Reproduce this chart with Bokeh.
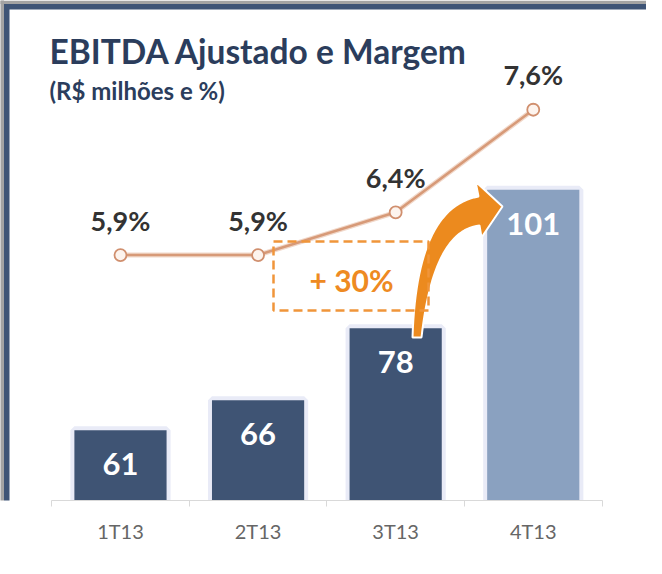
import numpy as np
from bokeh.plotting import figure
from bokeh.models import Range1d, FixedTicker, Label, BoxAnnotation
from bokeh.core.properties import value
from bokeh.embed import file_html
from bokeh.resources import INLINE

# ---- data ----
categories = ["1T13", "2T13", "3T13", "4T13"]
ebitda = [61, 66, 78, 101]
ebitda_labels = ["61", "66", "78", "101"]
margem = [5.9, 5.9, 6.4, 7.6]
margem_labels = ["5,9%", "5,9%", "6,4%", "7,6%"]
bar_colors = ["#3f5474", "#3f5474", "#3f5474", "#8aa1c0"]
title_text = "EBITDA Ajustado e Margem"
subtitle_text = "(R$ milhões e %)"
growth_text = "+ 30%"

# ---- layout ----
W, H = 646, 558
BOTTOM = 58
FH = H - BOTTOM
X0, X1 = -0.872, 3.823
Y0, Y1 = 49.33, 132.5
M0, M1 = 3.028, 8.878
FONT = "Lato"

def sx(ix):
    return X0 + (ix - 8) / W * (X1 - X0)

def sy(iy):
    return Y1 - (iy - 8) / FH * (Y1 - Y0)

xs = list(range(len(categories)))

p = figure(width=W, height=H, x_range=Range1d(X0, X1), y_range=Range1d(Y0, Y1),
           output_backend="svg", toolbar_location=None, y_axis_location=None,
           min_border_left=0, min_border_right=0, min_border_top=0, min_border_bottom=BOTTOM)
p.extra_y_ranges = {"m": Range1d(M0, M1)}
p.grid.visible = False
p.outline_line_color = None
p.background_fill_color = "white"
p.border_fill_color = "white"

# frame borders
gray = "#a3a3a3"
navy = "#3e5476"
p.add_layout(BoxAnnotation(left=sx(6), bottom=sy(11.5), fill_color=gray, fill_alpha=1, line_color=None))
p.add_layout(BoxAnnotation(left=sx(6), right=sx(11.5), top=sy(6), bottom=sy(600), fill_color=gray, fill_alpha=1, line_color=None))
p.add_layout(BoxAnnotation(left=sx(11.5), top=sy(11.5), bottom=sy(17), fill_color=navy, fill_alpha=1, line_color=None))
p.add_layout(BoxAnnotation(left=sx(11.5), right=sx(17), top=sy(11.5), bottom=sy(600), fill_color=navy, fill_alpha=1, line_color=None))

# bars with halo
p.vbar(x=xs, top=ebitda, bottom=0, width=0.67, fill_color="#e9ebf7",
       line_color="#e9ebf7", line_width=8)
p.vbar(x=xs, top=ebitda, bottom=0, width=0.67, fill_color=bar_colors, line_color=None)
p.text(x=xs, y=ebitda, text=ebitda_labels, y_offset=34, text_align="center",
       text_baseline="middle", text_color="white", text_font=value(FONT),
       text_font_style="bold", text_font_size="31px")

# margin line
p.line(xs, margem, y_range_name="m", line_color="#f1d8ca", line_width=5)
p.line(xs, margem, y_range_name="m", line_color="#d79a78", line_width=2.5)
p.scatter(xs, margem, y_range_name="m", size=12, fill_color="#fdf4ee",
          line_color="#d08f6e", line_width=1.8)
p.text(x=xs, y=margem, text=margem_labels, y_range_name="m", y_offset=-35,
       text_align="center", text_baseline="middle", text_color="#333333",
       text_font=value(FONT), text_font_style="bold", text_font_size="27px")

# growth box
p.add_layout(BoxAnnotation(left=sx(281), right=sx(436), top=sy(249), bottom=sy(318),
                           fill_alpha=0, line_color="#f0953a", line_alpha=1,
                           line_width=2.5, line_dash="9 5"))
p.add_layout(Label(x=sx(359), y=sy(287), text=growth_text, text_align="center",
                   text_baseline="middle", text_color="#ee8a22", text_font=FONT,
                   text_font_style="bold", text_font_size="30px"))

# curved arrow
t = np.linspace(0, 1, 30)
def qbez(a, c, b):
    return ((1 - t) ** 2)[:, None] * np.array(a) + (2 * (1 - t) * t)[:, None] * np.array(c) + (t ** 2)[:, None] * np.array(b)
outer = qbez((420, 345), (424, 215), (486, 204))
inner = qbez((487, 233), (441, 238), (429, 345))
pts = np.vstack([outer, [(483, 189), (510, 214), (489, 245)], inner])
p.patch([sx(a) for a in pts[:, 0]], [sy(b) for b in pts[:, 1]],
        fill_color="#ec8a1e", line_color="white", line_width=2)

# titles
p.add_layout(Label(x=sx(57), y=sy(58), text=title_text, text_align="left",
                   text_baseline="middle", text_color="#2b3d5c", text_font=FONT,
                   text_font_style="bold", text_font_size="33.5px"))
p.add_layout(Label(x=sx(57), y=sy(98), text=subtitle_text, text_align="left",
                   text_baseline="middle", text_color="#2b3d5c", text_font=FONT,
                   text_font_style="bold", text_font_size="24px"))

# x axis
ax = p.xaxis[0]
ax.bounds = (-0.5, 3.5)
ax.ticker = FixedTicker(ticks=xs, minor_ticks=[i - 0.5 for i in range(len(categories) + 1)])
ax.major_label_overrides = {i: c for i, c in zip(xs, categories)}
ax.axis_line_color = "#d9d9d9"
ax.major_tick_line_color = None
ax.major_tick_out = 0
ax.minor_tick_line_color = "#d9d9d9"
ax.minor_tick_out = 6
ax.minor_tick_in = 0
ax.major_label_standoff = 12
ax.major_label_text_font = FONT
ax.major_label_text_font_size = "20px"
ax.major_label_text_color = "#666666"

open("out.html", "w").write(file_html(p, INLINE))
